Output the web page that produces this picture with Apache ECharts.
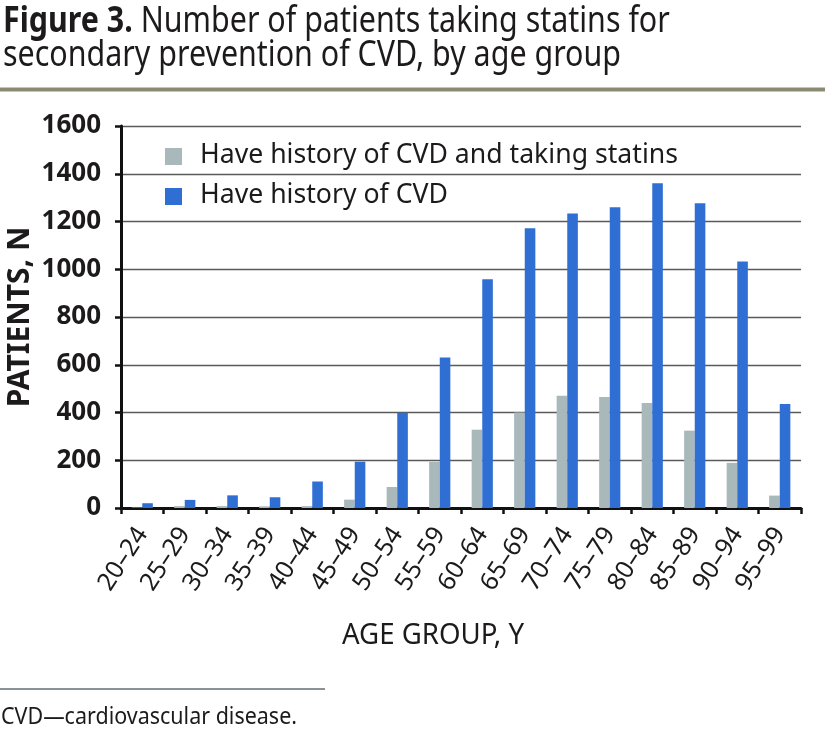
<!DOCTYPE html>
<html>
<head>
<meta charset="utf-8">
<script src="https://cdn.jsdelivr.net/npm/echarts@6/dist/echarts.min.js"></script>
<style>
html,body{margin:0;padding:0;background:#fff;}
#c{width:825px;height:739px;}
</style>
</head>
<body>
<div id="c"></div>
<script>
const categories = ['20–24','25–29','30–34','35–39','40–44','45–49','50–54','55–59','60–64','65–69','70–74','75–79','80–84','85–89','90–94','95–99'];
const statinsValues = [2, 8, 8, 7, 8, 35, 88, 193, 328, 400, 470, 465, 440, 324, 189, 52];
const cvdValues = [20, 34, 53, 45, 111, 194, 399, 630, 958, 1172, 1234, 1260, 1360, 1276, 1032, 436];
const yTicks = [0, 200, 400, 600, 800, 1000, 1200, 1400, 1600];
const seriesNames = ['Have history of CVD and taking statins', 'Have history of CVD'];
const seriesColors = ['#a8b8bb', '#2f6fd3'];

const F = '"Noto Sans", "DejaVu Sans", sans-serif';
const INK = '#1c1a1b';

// condensed-looking text: squeeze horizontally to the reference widths
const mctx = document.createElement('canvas').getContext('2d');
function natural(text, font) { mctx.font = font; return mctx.measureText(text).width; }
const titleLine2 = 'secondary prevention of CVD, by age group';
const S = 618 / natural(titleLine2, 'normal 36px ' + F);
const legendS = 478 / natural(seriesNames[0], 'normal 27px ' + F);

function ctext(text, weight, size, x, yMid, sx, align) {
  const font = weight + ' ' + size + 'px ' + F;
  return {
    type: 'text', x: x, y: yMid, scaleX: sx, scaleY: 1, originX: 0, originY: 0,
    style: {text: text, font: font, fill: INK, align: align || 'left', verticalAlign: 'middle'}
  };
}
function fit(text, weight, size, w) { return w / natural(text, weight + ' ' + size + 'px ' + F); }
const boldW = natural('Figure 3. ', 'bold 36px ' + F) * S;

const chart = echarts.init(document.getElementById('c'), null, {renderer: 'canvas'});
chart.setOption({
  backgroundColor: '#ffffff',
  animation: false,
  grid: {left: 121, right: 24, top: 126, bottom: 231, outerBoundsMode: 'none', containLabel: false},
  xAxis: {
    type: 'category', data: categories,
    boundaryGap: true,
    axisLine: {lineStyle: {color: '#111', width: 3}},
    axisTick: {show: true, length: 6, lineStyle: {color: '#111', width: 2.5}, alignWithLabel: false},
    axisLabel: {rotate: 57, fontFamily: F, fontSize: 25, color: INK, margin: 22, interval: 0}
  },
  yAxis: {
    type: 'value', min: yTicks[0], max: yTicks[yTicks.length - 1], interval: 200,
    name: 'PATIENTS, N', nameLocation: 'middle', nameGap: 86, nameMoveOverlap: false,
    nameTextStyle: {fontFamily: F, fontWeight: 'bold', fontSize: 30, color: INK},
    axisLine: {show: true, lineStyle: {color: '#111', width: 3}},
    axisTick: {show: true, inside: false, length: 6, lineStyle: {color: '#111', width: 2.5}},
    axisLabel: {fontFamily: F, fontWeight: 'bold', fontSize: 26, color: INK, margin: 20,
      formatter: function (v) { return String(v); }},
    splitLine: {show: true, lineStyle: {color: '#5a5a5a', width: 1.3}}
  },
  series: [
    {name: seriesNames[0], type: 'bar', data: statinsValues,
     barWidth: 10.6, barGap: '0%', itemStyle: {color: seriesColors[0]}},
    {name: seriesNames[1], type: 'bar', data: cvdValues,
     barWidth: 10.6, barGap: '0%', itemStyle: {color: seriesColors[1]}}
  ],
  graphic: [
    // title
    ctext('Figure 3.', 'bold', 36, 3, 22, S),
    ctext('Number of patients taking statins for', 'normal', 36, 3 + boldW, 22, S),
    ctext(titleLine2, 'normal', 36, 3, 56, S),
    {type: 'rect', shape: {x: 0, y: 87.5, width: 825, height: 4}, style: {fill: '#8b8b73'}},
    // legend
    {type: 'rect', shape: {x: 165, y: 148, width: 17, height: 17}, style: {fill: seriesColors[0]}},
    ctext(seriesNames[0], 'normal', 27, 200, 155, legendS),
    {type: 'rect', shape: {x: 165, y: 188, width: 17, height: 17}, style: {fill: seriesColors[1]}},
    ctext(seriesNames[1], 'normal', 27, 200, 195, legendS),
    // x axis title
    ctext('AGE GROUP, Y', 'normal', 29, 342, 636, fit('AGE GROUP, Y', 'normal', 29, 182)),
    // footnote
    {type: 'rect', shape: {x: 0, y: 688, width: 325, height: 2}, style: {fill: '#8a9296'}},
    ctext('CVD—cardiovascular disease.', 'normal', 24, 1, 717, fit('CVD—cardiovascular disease.', 'normal', 24, 296))
  ]
});
</script>
</body>
</html>
